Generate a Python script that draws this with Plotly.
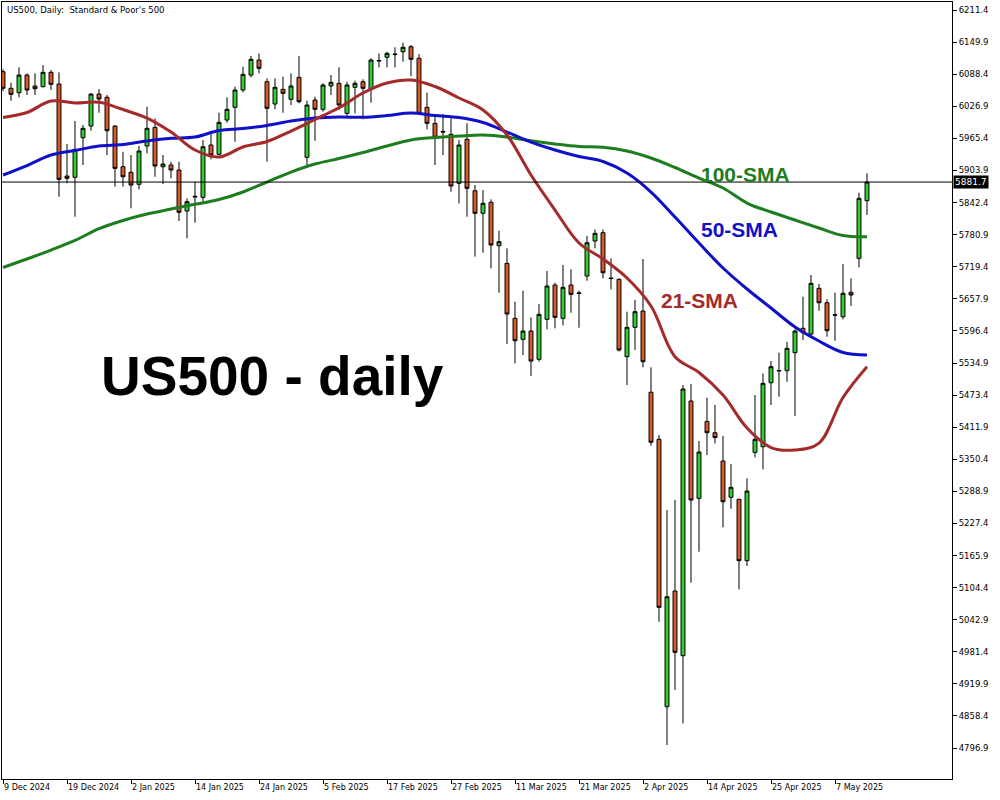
import pandas as pd
import plotly.graph_objects as go

# ---- categories (trading days shown on the chart) ----
holidays = ["2024-12-25", "2025-01-01", "2025-04-18"]
dates = [d.strftime("%Y-%m-%d") for d in pd.bdate_range("2024-12-09", "2025-05-13")
         if d.strftime("%Y-%m-%d") not in holidays]

# ---- OHLC values ----
opens = [6093.2, 6061.4, 6052.9, 6086.8, 6065.8, 6064.4, 6092.0, 6069.6, 5893.3, 5890.8,
         5966.7, 5989.1, 6050.4, 6044.1, 5989.1, 5911.1, 5900.4, 5877.4, 5950.8, 5986.6,
         5911.1, 5914.4, 5904.8, 5826.2, 5852.9, 5852.4, 5952.7, 5934.9, 6000.6, 6025.0,
         6058.1, 6086.8, 6115.6, 6074.0, 6031.3, 6059.4, 6040.3, 6082.4, 5929.1, 6038.9,
         6021.1, 6065.8, 6071.0, 6013.4, 6063.3, 6074.0, 6059.4, 6113.6, 6120.8, 6126.0,
         6131.5, 6141.1, 6118.9, 6025.0, 5994.3, 5978.9, 5973.2, 5879.3, 5963.6, 5865.1,
         5821.8, 5842.9, 5759.7, 5726.0, 5620.5, 5580.3, 5596.2, 5542.0, 5618.6, 5684.4,
         5620.5, 5684.4, 5668.0, 5701.6, 5768.7, 5784.6, 5697.8, 5695.3, 5547.0, 5603.3,
         5634.5, 5478.9, 5388.6, 4876.1, 5097.9, 4973.9, 5462.0, 5275.5, 5423.0, 5401.2,
         5347.0, 5277.5, 5273.6, 5156.0, 5363.7, 5374.4, 5497.1, 5519.5, 5520.1, 5554.6,
         5601.4, 5590.4, 5678.0, 5650.4, 5626.5, 5623.6, 5670.4, 5735.5, 5845.9]
highs = [6098.0, 6072.1, 6101.6, 6090.1, 6090.1, 6106.0, 6096.4, 6092.0, 5954.6, 5998.7,
         5991.0, 6051.8, 6060.0, 6048.5, 5990.5, 5939.8, 5933.5, 5950.8, 6026.1, 6003.9,
         5933.5, 5920.7, 5920.7, 5850.5, 5882.3, 5962.3, 5975.1, 6014.6, 6044.1, 6064.4,
         6102.8, 6123.3, 6128.4, 6080.5, 6080.5, 6083.6, 6090.1, 6123.3, 6037.6, 6045.3,
         6071.0, 6086.9, 6101.6, 6074.0, 6075.9, 6078.6, 6118.9, 6128.4, 6131.5, 6140.0,
         6148.8, 6144.4, 6127.1, 6052.9, 6010.2, 6012.1, 6003.9, 5962.3, 5994.3, 5876.0,
         5866.4, 5848.6, 5788.4, 5754.7, 5652.4, 5673.4, 5622.4, 5648.0, 5711.2, 5688.8,
         5722.7, 5714.5, 5673.4, 5778.3, 5791.1, 5791.1, 5735.5, 5697.0, 5633.2, 5655.6,
         5734.2, 5526.6, 5396.9, 5253.1, 5272.3, 5492.7, 5494.6, 5385.4, 5468.4, 5454.4,
         5395.0, 5341.3, 5274.5, 5313.9, 5473.5, 5515.1, 5538.7, 5554.6, 5575.7, 5599.5,
         5662.0, 5703.5, 5686.3, 5657.0, 5669.6, 5724.6, 5697.2, 5861.3, 5898.5]
lows = [6056.0, 6037.6, 6044.1, 6048.5, 6048.5, 6063.3, 6058.1, 5853.6, 5879.3, 5815.3,
        5914.4, 5980.1, 6014.6, 5933.5, 5872.8, 5872.8, 5831.4, 5867.8, 5936.8, 5891.9,
        5877.9, 5888.9, 5807.0, 5773.9, 5803.8, 5844.0, 5925.3, 5933.5, 5995.4, 5959.0,
        6053.7, 6082.4, 6090.1, 5920.7, 6021.1, 6014.6, 6029.3, 6032.6, 5910.0, 5960.9,
        6016.5, 6048.5, 6019.8, 6008.3, 6013.4, 6002.0, 6033.8, 6101.6, 6101.6, 6101.6,
        6112.4, 6084.9, 6010.2, 5982.8, 5914.4, 5933.5, 5863.2, 5840.9, 5815.3, 5738.8,
        5746.3, 5716.4, 5669.6, 5571.3, 5534.3, 5550.2, 5510.0, 5537.4, 5599.5, 5601.4,
        5607.0, 5631.3, 5602.5, 5692.6, 5754.7, 5697.2, 5676.1, 5557.0, 5492.7, 5559.8,
        5526.6, 5376.4, 5039.0, 4802.8, 4908.1, 4844.3, 5113.8, 5173.2, 5358.5, 5380.9,
        5220.0, 5255.6, 5101.1, 5145.8, 5354.1, 5331.1, 5454.4, 5470.3, 5499.0, 5433.3,
        5578.9, 5586.6, 5634.9, 5585.3, 5577.6, 5618.6, 5644.3, 5718.3, 5818.7]
closes = [6061.4, 6049.9, 6086.8, 6058.1, 6060.6, 6092.0, 6069.0, 5886.9, 5888.9, 5944.4,
          5984.7, 6050.4, 6040.8, 5980.1, 5908.0, 5891.9, 5876.0, 5941.2, 5984.7, 5912.5,
          5916.3, 5904.8, 5823.7, 5844.0, 5854.3, 5949.4, 5933.5, 5996.2, 6021.1, 6058.1,
          6088.2, 6116.9, 6099.7, 6023.0, 6063.3, 6051.8, 6065.8, 6035.7, 6029.4, 6021.1,
          6067.7, 6072.9, 6029.4, 6067.7, 6071.0, 6061.4, 6115.6, 6114.6, 6128.4, 6126.8,
          6140.0, 6117.0, 6013.4, 5994.3, 5967.4, 5977.6, 5874.1, 5952.7, 5869.7, 5821.8,
          5841.0, 5761.0, 5767.4, 5628.8, 5577.6, 5596.2, 5538.7, 5628.2, 5682.4, 5622.4,
          5679.9, 5666.5, 5669.0, 5765.4, 5783.4, 5707.9, 5696.8, 5559.8, 5603.3, 5633.2,
          5537.4, 5383.0, 5066.6, 5086.9, 4980.4, 5485.0, 5272.3, 5364.3, 5401.2, 5392.1,
          5269.0, 5296.6, 5156.0, 5289.5, 5388.6, 5495.9, 5527.8, 5520.5, 5563.0, 5596.2,
          5593.0, 5687.6, 5650.4, 5596.8, 5627.3, 5668.5, 5665.2, 5850.5, 5881.7]

# ---- moving averages (every 3rd bar) ----
sma_idx = list(range(0, 109, 3))
sma21 = [6005.4, 6015.0, 6037.0, 6033.2, 6034.5, 6020.7, 6004.4, 5977.6, 5943.1, 5929.7,
         5948.9, 5959.4, 5979.5, 6001.6, 6024.0, 6052.4, 6071.5, 6077.3, 6064.8, 6042.8,
         6019.8, 5971.9, 5895.2, 5828.1, 5764.9, 5734.2, 5697.8, 5644.1, 5547.0, 5516.7,
         5473.5, 5410.3, 5372.9, 5368.1, 5381.5, 5468.8, 5527.8]
sma50 = [5895.2, 5913.4, 5933.5, 5942.2, 5950.8, 5953.6, 5960.4, 5965.5, 5968.0, 5980.5,
         5984.3, 5990.1, 5998.7, 6004.4, 6006.4, 6005.8, 6009.2, 6014.0, 6009.2, 6005.4,
         5995.8, 5977.6, 5958.4, 5943.1, 5930.6, 5921.1, 5899.0, 5862.6, 5814.7, 5764.9,
         5716.9, 5676.7, 5640.3, 5603.9, 5577.0, 5555.0, 5550.2]
sma100 = [5717.9, 5734.2, 5751.4, 5769.7, 5792.3, 5808.0, 5820.4, 5830.0, 5839.0, 5848.2,
          5862.6, 5881.8, 5900.9, 5916.3, 5926.8, 5938.3, 5950.8, 5962.3, 5967.1, 5969.9,
          5971.9, 5968.0, 5960.7, 5954.6, 5949.8, 5948.3, 5941.2, 5927.8, 5909.6, 5889.4,
          5870.3, 5841.5, 5824.3, 5808.9, 5793.6, 5779.2, 5776.9]
sma_dates = [dates[i] for i in sma_idx]

# ---- axis ticks ----
ytick_vals = [4796.9 + 61.5 * k for k in range(24)]
xtick_dates = ["2024-12-09", "2024-12-19", "2025-01-02", "2025-01-14", "2025-01-24",
               "2025-02-05", "2025-02-17", "2025-02-27", "2025-03-11", "2025-03-21",
               "2025-04-02", "2025-04-14", "2025-04-25", "2025-05-07"]
xtick_text = ["9 Dec 2024", "19 Dec 2024", "2 Jan 2025", "14 Jan 2025", "24 Jan 2025",
              "5 Feb 2025", "17 Feb 2025", "27 Feb 2025", "11 Mar 2025", "21 Mar 2025",
              "2 Apr 2025", "14 Apr 2025", "25 Apr 2025", "7 May 2025"]
last_price = 5881.7

C_UP = "#32CD32"
C_DN = "#D9582A"
C21 = "#A52A2A"
C50 = "#1010C8"
C100 = "#1E7D1E"

fig = go.Figure()
fig.add_trace(go.Candlestick(
    x=dates, open=opens, high=highs, low=lows, close=closes,
    increasing=dict(fillcolor=C_UP, line=dict(color="black", width=1)),
    decreasing=dict(fillcolor=C_DN, line=dict(color="black", width=1)),
    whiskerwidth=0, showlegend=False))
fig.add_trace(go.Scatter(x=sma_dates, y=sma100, mode="lines", line=dict(color=C100, width=3, shape="spline"),
                         hoverinfo="skip", showlegend=False))
fig.add_trace(go.Scatter(x=sma_dates, y=sma50, mode="lines", line=dict(color=C50, width=3, shape="spline"),
                         hoverinfo="skip", showlegend=False))
fig.add_trace(go.Scatter(x=sma_dates, y=sma21, mode="lines", line=dict(color=C21, width=3, shape="spline"),
                         hoverinfo="skip", showlegend=False))

# current price line
fig.add_shape(type="line", xref="paper", x0=0, x1=1, yref="y", y0=last_price, y1=last_price,
              line=dict(color="black", width=1))
fig.add_annotation(xref="paper", x=1, yref="y", y=last_price, text=f"{last_price:.1f}",
                   showarrow=False, xanchor="left", xshift=1, bgcolor="black",
                   font=dict(color="white", size=9, family="DejaVu Sans"), borderpad=1)

# texts
fig.add_annotation(xref="paper", yref="paper", x=0.003, y=0.999, xanchor="left", yanchor="top",
                   text="US500, Daily:  Standard & Poor's 500", showarrow=False,
                   font=dict(size=8.5, color="black", family="DejaVu Sans"))
fig.add_annotation(xref="paper", yref="paper", x=0.102, y=0.519, xanchor="left", yanchor="middle",
                   text="<b>US500 - daily</b>", showarrow=False,
                   font=dict(size=55, color="black", family="Liberation Sans"))
fig.add_annotation(x=dates[87], y=5897, xanchor="left", yanchor="middle", text="<b>100-SMA</b>",
                   showarrow=False, font=dict(size=21, color=C100, family="Liberation Sans"))
fig.add_annotation(x=dates[87], y=5790, xanchor="left", yanchor="middle", text="<b>50-SMA</b>",
                   showarrow=False, font=dict(size=21, color=C50, family="Liberation Sans"))
fig.add_annotation(x=dates[82], y=5654, xanchor="left", yanchor="middle", text="<b>21-SMA</b>",
                   showarrow=False, font=dict(size=21, color=C21, family="Liberation Sans"))

fig.update_layout(
    width=1000, height=800,
    margin=dict(l=2, r=48, t=2, b=21),
    paper_bgcolor="white", plot_bgcolor="white",
    showlegend=False,
    xaxis=dict(type="category", categoryorder="array", categoryarray=dates,
               range=[-0.125, 118.625], rangeslider=dict(visible=False),
               tickmode="array", tickvals=xtick_dates, ticktext=xtick_text, tickangle=0,
               ticks="outside", ticklen=4, tickcolor="black", ticklabelposition="outside right",
               showgrid=False, showline=True, linecolor="black", linewidth=1, mirror=True,
               tickfont=dict(size=8, color="black", family="DejaVu Sans"), zeroline=False),
    yaxis=dict(side="right", range=[4737.6, 6226.8], tickmode="array", tickvals=ytick_vals,
               ticktext=[f"{v:.1f}" for v in ytick_vals],
               ticks="outside", ticklen=4, tickcolor="black",
               showgrid=False, showline=True, linecolor="black", linewidth=1, mirror=True,
               tickfont=dict(size=8.5, color="black", family="DejaVu Sans"), zeroline=False),
)

fig.write_html("out.html", config={"displayModeBar": False},
               post_script="document.body.style.margin='0';")
